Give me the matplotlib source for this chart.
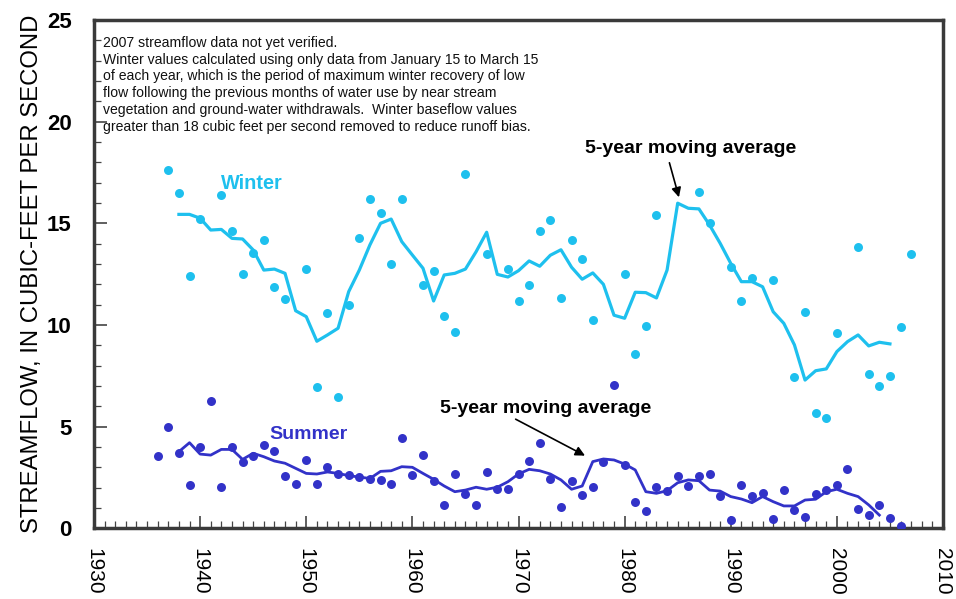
import matplotlib
matplotlib.use("Agg")
import matplotlib.pyplot as plt
from matplotlib.ticker import MultipleLocator

plt.rcParams['font.family'] = ['Liberation Sans', 'DejaVu Sans']

# ---- data ----
winter_years = [1937, 1938, 1939, 1940, 1942, 1943, 1944, 1945, 1946, 1947, 1948, 1950, 1951, 1952,
                1953, 1954, 1955, 1956, 1957, 1958, 1959, 1961, 1962, 1963, 1964, 1965, 1967, 1969,
                1970, 1971, 1972, 1973, 1974, 1975, 1976, 1977, 1980, 1981, 1982, 1983, 1987, 1988,
                1990, 1991, 1992, 1994, 1996, 1997, 1998, 1999, 2000, 2002, 2003, 2004, 2005, 2006, 2007]
winter_values = [17.61, 16.51, 12.43, 15.2, 16.41, 14.62, 12.52, 13.53, 14.18, 11.87, 11.29, 12.75, 6.94, 10.61,
                 6.44, 11.0, 14.3, 16.18, 15.52, 12.99, 16.18, 11.97, 12.64, 10.44, 9.67, 17.41, 13.51, 12.77,
                 11.2, 11.97, 14.64, 15.18, 11.33, 14.18, 13.26, 10.26, 12.52, 8.57, 9.95, 15.41, 16.53, 15.0,
                 12.85, 11.2, 12.31, 12.2, 7.43, 10.64, 5.67, 5.41, 9.61, 13.82, 7.57, 6.98, 7.48, 9.89, 13.48]

winter_ma_years = list(range(1938, 2006))
winter_ma_values = [15.44, 15.44, 15.25, 14.67, 14.7, 14.26, 14.23, 13.69, 12.7, 12.75, 12.54, 10.7, 10.41, 9.2,
                    9.51, 9.84, 11.64, 12.7, 13.94, 15.0, 15.21, 14.1, 13.44, 12.79, 11.18, 12.46, 12.54, 12.75,
                    13.6, 14.56, 12.49, 12.36, 12.67, 13.15, 12.89, 13.43, 13.7, 12.84, 12.25, 12.56, 12.0, 10.48,
                    10.33, 11.61, 11.59, 11.33, 12.7, 15.99, 15.74, 15.71, 14.92, 14.02, 13.03, 12.13, 12.13, 11.88,
                    10.65, 10.08, 9.02, 7.29, 7.75, 7.84, 8.69, 9.18, 9.51, 8.97, 9.15, 9.07]

summer_years = list(range(1936, 2007))
summer_values = [3.57, 5.0, 3.72, 2.15, 4.0, 6.28, 2.02, 4.0, 3.28, 3.54, 4.1, 3.82, 2.56, 2.19, 3.36, 2.18,
                 3.02, 2.69, 2.6, 2.51, 2.41, 2.37, 2.19, 4.43, 2.61, 3.62, 2.34, 1.13, 2.69, 1.7, 1.13, 2.77,
                 1.92, 1.92, 2.66, 3.3, 4.21, 2.44, 1.03, 2.34, 1.64, 2.05, 3.28, 7.06, 3.11, 1.29, 0.85, 2.05,
                 1.85, 2.56, 2.1, 2.56, 2.67, 1.6, 0.41, 2.11, 1.6, 1.75, 0.44, 1.88, 0.9, 0.56, 1.7, 1.88,
                 2.13, 2.93, 0.97, 0.67, 1.13, 0.52, 0.11]

summer_ma_years = list(range(1938, 2005))
summer_ma_values = [3.77, 4.21, 3.65, 3.6, 3.88, 3.88, 3.39, 3.69, 3.52, 3.31, 3.2, 2.95, 2.7, 2.67, 2.77, 2.7,
                    2.59, 2.52, 2.45, 2.8, 2.83, 3.03, 3.0, 2.7, 2.41, 2.08, 1.8, 1.88, 2.02, 1.92, 2.02, 2.29,
                    2.67, 2.9, 2.83, 2.67, 2.38, 1.92, 2.08, 3.28, 3.41, 3.36, 3.16, 2.87, 1.8, 1.72, 1.85, 2.24,
                    2.38, 2.34, 1.88, 1.83, 1.56, 1.44, 1.26, 1.56, 1.31, 1.1, 1.1, 1.39, 1.43, 1.8, 1.92, 1.72,
                    1.56, 1.15, 0.65]

x_ticks = [1930, 1940, 1950, 1960, 1970, 1980, 1990, 2000, 2010]
y_ticks = [0, 5, 10, 15, 20, 25]

note = ("2007 streamflow data not yet verified.\n"
        "Winter values calculated using only data from January 15 to March 15\n"
        "of each year, which is the period of maximum winter recovery of low\n"
        "flow following the previous months of water use by near stream\n"
        "vegetation and ground-water withdrawals.  Winter baseflow values\n"
        "greater than 18 cubic feet per second removed to reduce runoff bias.")

winter_color = '#1EC0EE'
summer_color = '#3232C8'

fig = plt.figure(figsize=(9.56, 5.99), dpi=100)
ax = fig.add_axes([94/956, (599-528.3)/599, 849/956, 508.3/599])

ax.plot(winter_ma_years, winter_ma_values, color=winter_color, lw=2.3, zorder=3)
ax.scatter(winter_years, winter_values, s=42, color=winter_color, zorder=4, linewidths=0)
ax.plot(summer_ma_years, summer_ma_values, color=summer_color, lw=2.0, zorder=3)
ax.scatter(summer_years, summer_values, s=42, color=summer_color, zorder=4, linewidths=0)

ax.set_xlim(1930, 2010)
ax.set_ylim(0, 25)
ax.set_xticks(x_ticks)
ax.set_yticks(y_ticks)
ax.xaxis.set_minor_locator(MultipleLocator(1))
ax.yaxis.set_minor_locator(MultipleLocator(1))
ax.tick_params(axis='both', which='both', direction='in', color='#444444')
ax.tick_params(axis='x', which='major', length=9, width=1.2, labelsize=15, rotation=270, pad=14)
ax.tick_params(axis='x', which='minor', length=5, width=0.9)
ax.tick_params(axis='y', which='major', length=9, width=1.2, labelsize=16, pad=16)
ax.tick_params(axis='y', which='minor', length=5, width=0.9)
for lab in ax.get_yticklabels():
    lab.set_fontweight('bold')
for lab in ax.get_xticklabels():
    lab.set_verticalalignment('top')

for sp in ax.spines.values():
    sp.set_linewidth(2.5)
    sp.set_color('#3a3a3a')

ax.set_ylabel('STREAMFLOW, IN CUBIC-FEET PER SECOND', fontsize=17.2, labelpad=3)

ax.text(0.0106, 0.969, note, transform=ax.transAxes, ha='left', va='top',
        fontsize=10.1, linespacing=1.26, color='#111111')

ax.text(1944.9, 16.94, 'Winter', color=winter_color, fontsize=14.3, fontweight='bold',
        ha='center', va='center')
ax.text(1950.2, 4.59, 'Summer', color=summer_color, fontsize=14, fontweight='bold',
        ha='center', va='center')

ax.annotate('', xy=(1985.19, 16.15), xytext=(1984.15, 18.11),
            arrowprops=dict(arrowstyle='-|>', color='black', lw=1.2, mutation_scale=14))
ax.text(1986.2, 18.66, '5-year moving average', fontsize=14, fontweight='bold',
        ha='center', va='center')
ax.annotate('', xy=(1976.5, 3.51), xytext=(1969.5, 5.43),
            arrowprops=dict(arrowstyle='-|>', color='black', lw=1.2, mutation_scale=14))
ax.text(1972.6, 5.87, '5-year moving average', fontsize=14, fontweight='bold',
        ha='center', va='center')

fig.savefig('out.png', dpi=100)
